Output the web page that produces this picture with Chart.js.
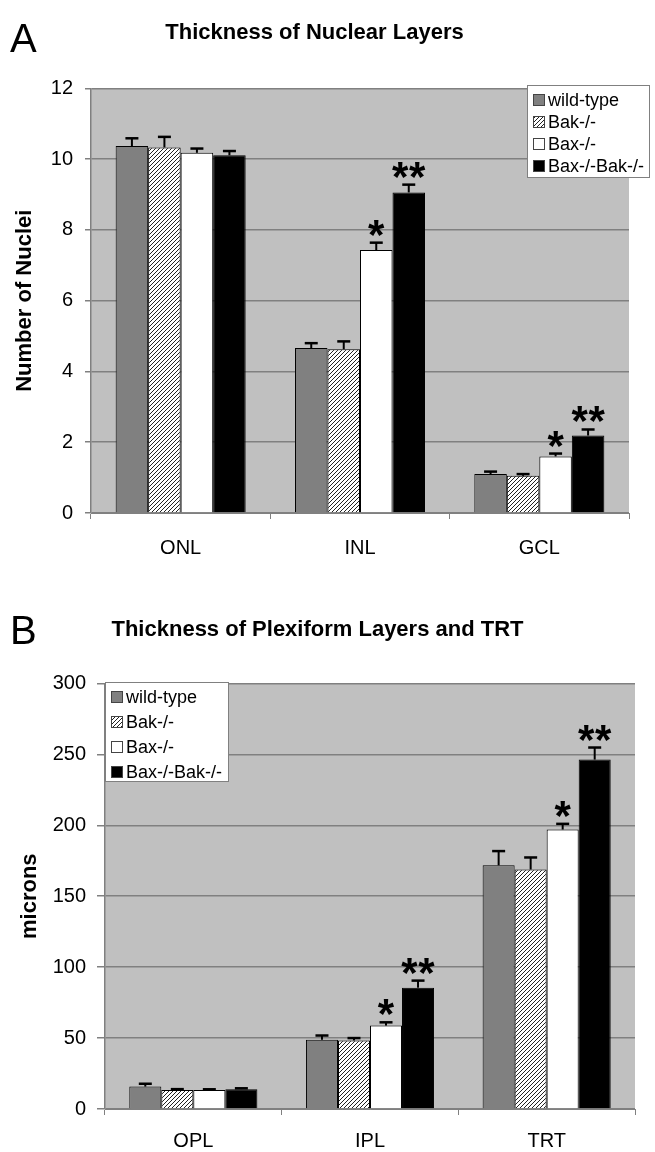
<!DOCTYPE html>
<html>
<head>
<meta charset="utf-8">
<script src="https://cdn.jsdelivr.net/npm/chart.js@4.4.0/dist/chart.umd.min.js"></script>
<style>
  body { margin: 0; background: #fff; width: 655px; height: 1152px; overflow: hidden; position: relative; }
  canvas { position: absolute; left: 0; }
  #chartA { top: 0; }
  #chartB { top: 580px; }
</style>
</head>
<body>
<canvas id="chartA" width="655" height="575"></canvas>
<canvas id="chartB" width="655" height="572"></canvas>
<script>
// series names
const SERIES = ['wild-type', 'Bak-/-', 'Bax-/-', 'Bax-/-Bak-/-'];

// panel A: nuclear layers (number of nuclei)
const LAYERS_A = ['ONL', 'INL', 'GCL'];
const WT_A = [10.37, 4.66, 1.10];
const BAK_A = [10.33, 4.63, 1.05];
const BAX_A = [10.18, 7.43, 1.60];
const BAXBAK_A = [10.11, 9.06, 2.19];
const WT_A_ERR = [0.22, 0.14, 0.07];
const BAK_A_ERR = [0.30, 0.22, 0.05];
const BAX_A_ERR = [0.12, 0.21, 0.08];
const BAXBAK_A_ERR = [0.12, 0.22, 0.17];
const BAX_A_SIG = ['', '*', '*'];
const BAXBAK_A_SIG = ['', '**', '**'];
const TICKS_A = [0, 2, 4, 6, 8, 10, 12];

// panel B: plexiform layers and TRT (microns)
const LAYERS_B = ['OPL', 'IPL', 'TRT'];
const WT_B = [15.8, 48.8, 171.8];
const BAK_B = [13.4, 48.3, 168.8];
const BAX_B = [13.4, 58.8, 197.0];
const BAXBAK_B = [14.0, 85.5, 246.3];
const WT_B_ERR = [2.0, 3.0, 10.0];
const BAK_B_ERR = [0.6, 1.7, 8.5];
const BAX_B_ERR = [0.5, 2.3, 4.0];
const BAXBAK_B_ERR = [0.6, 5.0, 8.5];
const BAX_B_SIG = ['', '*', '*'];
const BAXBAK_B_SIG = ['', '**', '**'];
const TICKS_B = [0, 50, 100, 150, 200, 250, 300];

const FONT = '"Liberation Sans", Arial, sans-serif';
Chart.defaults.font.family = FONT;
Chart.defaults.color = '#000';

// diagonal hatch for Bak-/-
function hatch() {
    const c = document.createElement('canvas');
    c.width = 4; c.height = 4;
    const g = c.getContext('2d');
    g.fillStyle = '#fff';
    g.fillRect(0, 0, 4, 4);
    g.strokeStyle = '#222';
    g.lineWidth = 1;
    g.beginPath();
    g.moveTo(-1, 5); g.lineTo(5, -1);
    g.moveTo(-1, 1); g.lineTo(1, -1);
    g.moveTo(3, 5); g.lineTo(5, 3);
    g.stroke();
    return g.createPattern(c, 'repeat');
}
const HATCH = hatch();
const FILLS = ['#808080', HATCH, '#ffffff', '#000000'];

const plotBg = {
    id: 'plotBg',
    beforeDraw(chart) {
        const { ctx, chartArea: a } = chart;
        ctx.save();
        ctx.fillStyle = '#c0c0c0';
        ctx.fillRect(a.left, a.top, a.right - a.left, a.bottom - a.top);
        ctx.restore();
    }
};

// error bars (upper only) + significance stars
const errorBars = {
    id: 'errorBars',
    afterDatasetsDraw(chart) {
        const { ctx } = chart;
        const y = chart.scales.y;
        ctx.save();
        chart.data.datasets.forEach((ds, i) => {
            const meta = chart.getDatasetMeta(i);
            meta.data.forEach((bar, j) => {
                const top = y.getPixelForValue(ds.data[j] + ds.errors[j]);
                ctx.strokeStyle = '#000';
                ctx.lineWidth = 2;
                ctx.beginPath();
                ctx.moveTo(bar.x, bar.y);
                ctx.lineTo(bar.x, top);
                ctx.stroke();
                ctx.lineWidth = 2.5;
                ctx.beginPath();
                ctx.moveTo(bar.x - 6.5, top);
                ctx.lineTo(bar.x + 6.5, top);
                ctx.stroke();
                const s = ds.stars && ds.stars[j];
                if (s) {
                    ctx.fillStyle = '#000';
                    ctx.font = 'bold 42px ' + FONT;
                    ctx.textAlign = 'center';
                    ctx.textBaseline = 'alphabetic';
                    const by = top + 6;
                    if (s.length === 1) {
                        ctx.fillText('*', bar.x, by);
                    } else {
                        ctx.fillText('*', bar.x - 8.5, by);
                        ctx.fillText('*', bar.x + 8.5, by);
                    }
                }
            });
        });
        ctx.restore();
    }
};

const boxLegend = {
    id: 'boxLegend',
    afterDraw(chart, args, opts) {
        const { ctx } = chart;
        ctx.save();
        ctx.fillStyle = '#fff';
        ctx.fillRect(opts.x, opts.y, opts.w, opts.h);
        ctx.strokeStyle = '#808080';
        ctx.lineWidth = 1;
        ctx.strokeRect(opts.x + 0.5, opts.y + 0.5, opts.w, opts.h);
        ctx.font = '18px ' + FONT;
        ctx.textBaseline = 'middle';
        ctx.textAlign = 'left';
        chart.data.datasets.forEach((ds, i) => {
            const cy = opts.y + opts.first + i * opts.step;
            ctx.fillStyle = ds.backgroundColor;
            ctx.fillRect(opts.x + 6, cy - 6, 11, 11);
            ctx.strokeStyle = '#444';
            ctx.strokeRect(opts.x + 6.5, cy - 5.5, 11, 11);
            ctx.fillStyle = '#000';
            ctx.fillText(ds.label, opts.x + 21, cy + 1);
        });
        ctx.restore();
    }
};

const panelLetter = {
    id: 'panelLetter',
    afterDraw(chart, args, opts) {
        const { ctx } = chart;
        ctx.save();
        ctx.fillStyle = '#000';
        ctx.font = '40px ' + FONT;
        ctx.textBaseline = 'alphabetic';
        ctx.fillText(opts.text, opts.x, opts.y);
        ctx.restore();
    }
};

function makeDatasets(values, errors, stars) {
    return SERIES.map((label, i) => ({
        label,
        data: values[i],
        errors: errors[i],
        stars: stars[i],
        backgroundColor: FILLS[i],
        borderColor: '#000',
        borderWidth: 1,
        barPercentage: 1,
        categoryPercentage: 0.725
    }));
}

function makeChart(id, cfg) {
    return new Chart(document.getElementById(id), {
        type: 'bar',
        data: {
            labels: cfg.labels,
            datasets: makeDatasets(cfg.values, cfg.errors, cfg.stars)
        },
        plugins: [plotBg, errorBars, boxLegend, panelLetter],
        options: {
            responsive: false,
            animation: false,
            layout: { padding: { left: 0, right: cfg.right, top: 0, bottom: 0 } },
            plugins: {
                legend: { display: false },
                tooltip: { enabled: false },
                title: {
                    display: true,
                    text: cfg.title,
                    font: { size: 22, weight: 'bold' },
                    color: '#000',
                    padding: cfg.titlePad
                },
                boxLegend: cfg.legend,
                panelLetter: cfg.letter
            },
            scales: {
                x: {
                    grid: { display: true, drawOnChartArea: false, offset: true, tickLength: 6, color: '#808080', lineWidth: 1 },
                    border: { color: '#808080', width: 1 },
                    ticks: { font: { size: 20 }, color: '#000', padding: cfg.xPad },
                    afterFit(s) { s.height = cfg.xHeight; }
                },
                y: {
                    min: cfg.ticks[0],
                    max: cfg.ticks[cfg.ticks.length - 1],
                    afterBuildTicks(s) { s.ticks = cfg.ticks.map(v => ({ value: v })); },
                    grid: { color: '#808080', lineWidth: 1.5, tickLength: cfg.tickLen, tickColor: '#808080' },
                    border: { color: '#808080', width: 1.5 },
                    ticks: { font: { size: 20 }, color: '#000', padding: cfg.yPad },
                    title: {
                        display: true,
                        text: cfg.yTitle,
                        font: { size: 22, weight: 'bold' },
                        color: '#000',
                        padding: { top: cfg.yTitlePad, bottom: 0 }
                    },
                    afterFit(s) { s.width = cfg.yWidth; }
                }
            }
        }
    });
}

makeChart('chartA', {
    labels: LAYERS_A,
    values: [WT_A, BAK_A, BAX_A, BAXBAK_A],
    errors: [WT_A_ERR, BAK_A_ERR, BAX_A_ERR, BAXBAK_A_ERR],
    stars: [[], [], BAX_A_SIG, BAXBAK_A_SIG],
    ticks: TICKS_A,
    title: 'Thickness of Nuclear Layers',
    titlePad: { top: 20, bottom: 42 },
    yTitle: 'Number of Nuclei',
    yTitlePad: 12,
    yWidth: 91,
    tickLen: 6,
    yPad: 12,
    xPad: 17,
    xHeight: 62,
    right: 26,
    legend: { x: 527, y: 85, w: 122, h: 92, first: 15, step: 22 },
    letter: { text: 'A', x: 10, y: 52 }
});

makeChart('chartB', {
    labels: LAYERS_B,
    values: [WT_B, BAK_B, BAX_B, BAXBAK_B],
    errors: [WT_B_ERR, BAK_B_ERR, BAX_B_ERR, BAXBAK_B_ERR],
    stars: [[], [], BAX_B_SIG, BAXBAK_B_SIG],
    ticks: TICKS_B,
    title: 'Thickness of Plexiform Layers and TRT',
    titlePad: { top: 37, bottom: 40 },
    yTitlePad: 17,
    yTitle: 'microns',
    yWidth: 105,
    tickLen: 8,
    yPad: 11,
    xPad: 14,
    xHeight: 43,
    right: 20,
    legend: { x: 105, y: 102, w: 123, h: 99, first: 15, step: 25 },
    letter: { text: 'B', x: 10, y: 64 }
});
</script>
</body>
</html>
